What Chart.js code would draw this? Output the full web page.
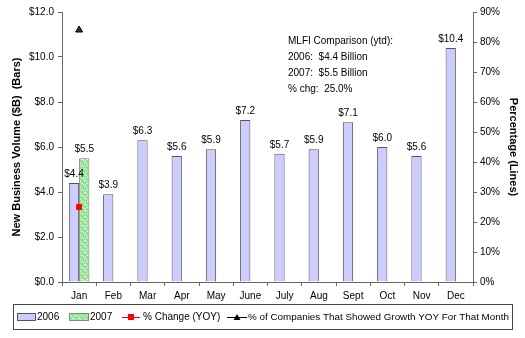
<!DOCTYPE html>
<html>
<head>
<meta charset="utf-8">
<script src="https://cdn.jsdelivr.net/npm/chart.js@4"></script>
<style>
  html, body { margin: 0; padding: 0; background: #fff; }
  #wrap { width: 525px; height: 338px; position: relative; }
</style>
</head>
<body>
<div id="wrap"><canvas id="chart" width="525" height="338"></canvas></div>
<script>
const months = ['Jan', 'Feb', 'Mar', 'Apr', 'May', 'June', 'July', 'Aug', 'Sept', 'Oct', 'Nov', 'Dec'];
const vol2006 = [4.4, 3.9, 6.3, 5.6, 5.9, 7.2, 5.7, 5.9, 7.1, 6.0, 5.6, 10.4];
const vol2007 = [5.5, null, null, null, null, null, null, null, null, null, null, null];
const pctChange = [25, null, null, null, null, null, null, null, null, null, null, null];
const pctGrowth = [84, null, null, null, null, null, null, null, null, null, null, null];
const noteLines = ['MLFI Comparison (ytd):', '2006:  $4.4 Billion', '2007:  $5.5 Billion', '% chg:  25.0%'];

const FONT = '"Liberation Sans", Arial, sans-serif';
const AXIS = '#666';

function greenPattern() {
    const c = document.createElement('canvas');
    c.width = 6; c.height = 6;
    const g = c.getContext('2d');
    g.fillStyle = '#8ee68e';
    g.fillRect(0, 0, 6, 6);
    g.fillStyle = '#ffffff';
    g.fillRect(0, 0, 2, 1);
    g.fillRect(2, 1, 1, 1);
    g.fillRect(3, 3, 2, 1);
    g.fillRect(5, 4, 1, 1);
    g.fillRect(1, 4, 1, 1);
    return g.createPattern(c, 'repeat');
}

// value labels over the bars
const barLabels = {
    id: 'barLabels',
    afterDatasetsDraw(chart) {
        const ctx = chart.ctx;
        ctx.save();
        ctx.font = '10px ' + FONT;
        ctx.fillStyle = '#000';
        ctx.textAlign = 'center';
        ctx.textBaseline = 'bottom';
        [0, 1].forEach(i => {
            const meta = chart.getDatasetMeta(i);
            meta.data.forEach((bar, j) => {
                const v = chart.data.datasets[i].data[j];
                if (v == null) return;
                ctx.fillText('$' + v.toFixed(1), bar.x, bar.y - 4);
            });
        });
        ctx.restore();
    }
};

// text box and legend
const extras = {
    id: 'extras',
    afterDraw(chart) {
        const ctx = chart.ctx;
        ctx.save();
        ctx.font = '10px ' + FONT;
        ctx.fillStyle = '#000';
        ctx.textBaseline = 'middle';
        ctx.textAlign = 'left';
        noteLines.forEach((t, i) => ctx.fillText(t, 288, 41 + i * 16));

        // legend box
        ctx.strokeStyle = '#444';
        ctx.lineWidth = 1;
        ctx.strokeRect(13.5, 304.5, 499, 25);
        const ly = 317;
        ctx.fillStyle = '#ccccff';
        ctx.fillRect(17, ly - 4, 19, 8);
        ctx.strokeStyle = '#555';
        ctx.strokeRect(17.5, ly - 3.5, 18, 7);
        ctx.fillStyle = '#000';
        ctx.fillText('2006', 37, ly);

        ctx.fillStyle = greenPattern();
        ctx.fillRect(69, ly - 4, 20, 8);
        ctx.strokeStyle = '#888';
        ctx.strokeRect(69.5, ly - 3.5, 19, 7);
        ctx.fillStyle = '#000';
        ctx.fillText('2007', 90, ly);

        ctx.strokeStyle = '#ff0000';
        ctx.beginPath(); ctx.moveTo(122, ly + 0.5); ctx.lineTo(140, ly + 0.5); ctx.stroke();
        ctx.fillStyle = '#ff0000';
        ctx.fillRect(128, ly - 3, 6, 6);
        ctx.fillStyle = '#000';
        ctx.fillText('% Change (YOY)', 143, ly);

        ctx.strokeStyle = '#000';
        ctx.beginPath(); ctx.moveTo(227, ly + 0.5); ctx.lineTo(247, ly + 0.5); ctx.stroke();
        ctx.beginPath(); ctx.moveTo(237, ly - 3); ctx.lineTo(240.5, ly + 3); ctx.lineTo(233.5, ly + 3); ctx.closePath(); ctx.fill();
        ctx.font = '9.85px ' + FONT;
        ctx.fillText('% of Companies That Showed Growth YOY For That Month', 248, ly);
        ctx.restore();
    }
};

new Chart(document.getElementById('chart'), {
    type: 'bar',
    data: {
        labels: months,
        datasets: [
            {
                label: '2006',
                data: vol2006,
                backgroundColor: '#ccccff',
                borderColor: '#555',
                borderWidth: 1,
                yAxisID: 'y',
                order: 2
            },
            {
                label: '2007',
                data: vol2007,
                backgroundColor: greenPattern(),
                borderColor: '#777',
                borderWidth: 1,
                yAxisID: 'y',
                order: 2
            },
            {
                type: 'line',
                label: '% Change (YOY)',
                data: pctChange,
                borderColor: '#ff0000',
                backgroundColor: '#ff0000',
                pointStyle: 'rect',
                pointRadius: 3.5,
                showLine: false,
                yAxisID: 'y1',
                order: 1
            },
            {
                type: 'line',
                label: '% of Companies That Showed Growth YOY For That Month',
                data: pctGrowth,
                borderColor: '#000',
                backgroundColor: '#333',
                pointStyle: 'triangle',
                pointRadius: 4,
                showLine: false,
                yAxisID: 'y1',
                order: 1
            }
        ]
    },
    options: {
        responsive: false,
        animation: false,
        layout: { padding: { top: 12, left: 0, right: 0, bottom: 0 } },
        categoryPercentage: 0.6,
        barPercentage: 1.0,
        plugins: {
            legend: { display: false },
            tooltip: { enabled: false }
        },
        scales: {
            x: {
                afterFit: s => { s.height = 56; },
                grid: { drawOnChartArea: false, tickLength: 4, color: AXIS },
                border: { color: AXIS },
                ticks: { color: '#000', font: { family: FONT, size: 10 }, padding: 4, maxRotation: 0 }
            },
            y: {
                position: 'left',
                min: 0, max: 12,
                afterFit: s => { s.width = 62; },
                grid: { drawOnChartArea: false, tickLength: 4, color: AXIS },
                border: { color: AXIS },
                ticks: {
                    stepSize: 2,
                    color: '#000',
                    padding: 4,
                    font: { family: FONT, size: 10 },
                    callback: v => '$' + v.toFixed(1)
                },
                title: {
                    display: true,
                    text: 'New Business Volume ($B)  (Bars)',
                    color: '#000',
                    font: { family: FONT, size: 11, weight: 'bold' },
                    padding: { top: 10, bottom: 0 }
                }
            },
            y1: {
                position: 'right',
                min: 0, max: 90,
                afterFit: s => { s.width = 52; },
                grid: { drawOnChartArea: false, tickLength: 4, color: AXIS },
                border: { color: AXIS },
                ticks: {
                    stepSize: 10,
                    color: '#000',
                    padding: 3,
                    font: { family: FONT, size: 10 },
                    callback: v => v + '%'
                },
                title: {
                    display: true,
                    text: 'Percentage (Lines)',
                    color: '#000',
                    font: { family: FONT, size: 11, weight: 'bold' },
                    padding: { top: 5, bottom: 0 }
                }
            }
        }
    },
    plugins: [barLabels, extras]
});
</script>
</body>
</html>
